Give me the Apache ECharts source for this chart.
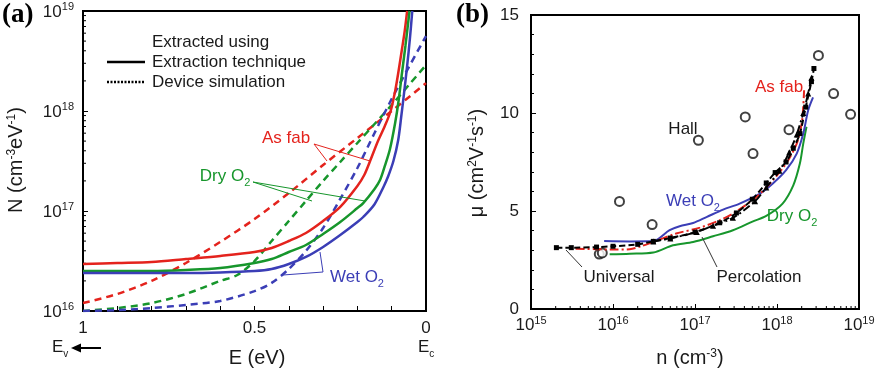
<!DOCTYPE html>
<html><head><meta charset="utf-8">
<script src="https://cdn.jsdelivr.net/npm/echarts@6/dist/echarts.min.js"></script>
<style>html,body{margin:0;padding:0;background:#fff}#c{width:878px;height:373px}</style>
</head><body><div id="c"></div>
<script>
// ---------- Panel (a): N vs E (eV) ----------
const asFabExtraction = [[1,2.95e16],[0.9,3.02e16],[0.8,3.09e16],[0.7,3.31e16],[0.6,3.55e16],[0.5,3.89e16],[0.45,4.27e16],[0.4,5.01e16],[0.35,6.03e16],[0.3,7.94e16],[0.25,1.10e17],[0.2,1.78e17],[0.18,2.29e17],[0.163,3.16e17],[0.14,5.01e17],[0.12,7.08e17],[0.103,1.0e18],[0.09,1.58e18],[0.08,2.51e18],[0.07,4.17e18],[0.062,6.31e18],[0.055,1e19]];
const dryExtraction = [[1,2.51e16],[0.9,2.51e16],[0.8,2.51e16],[0.7,2.57e16],[0.6,2.69e16],[0.5,3.02e16],[0.45,3.31e16],[0.4,3.89e16],[0.35,4.57e16],[0.3,5.89e16],[0.25,7.76e16],[0.2,1.07e17],[0.183,1.2e17],[0.15,1.66e17],[0.134,2.04e17],[0.12,2.82e17],[0.105,4.17e17],[0.09,7.59e17],[0.08,1.26e18],[0.07,2.4e18],[0.06,4.47e18],[0.048,1e19]];
const wetExtraction = [[1,2.40e16],[0.9,2.40e16],[0.8,2.40e16],[0.7,2.40e16],[0.6,2.43e16],[0.5,2.51e16],[0.45,2.63e16],[0.4,2.95e16],[0.35,3.47e16],[0.3,4.37e16],[0.25,5.75e16],[0.2,7.76e16],[0.183,8.71e16],[0.15,1.17e17],[0.124,1.74e17],[0.11,2.24e17],[0.095,3.16e17],[0.081,5.13e17],[0.072,8.91e17],[0.065,1.41e18],[0.055,2.82e18],[0.047,5.25e18],[0.04,1e19]];
const asFabSimulation = [[1,1.2e16],[0.9,1.48e16],[0.8,2.0e16],[0.7,3.02e16],[0.6,4.9e16],[0.5,8.3e16],[0.4,1.51e17],[0.3,2.88e17],[0.2,5.37e17],[0.1,1.0e18],[0,1.9e18]];
const drySimulation = [[1,1.0e16],[0.9,1.07e16],[0.8,1.2e16],[0.7,1.48e16],[0.6,2.0e16],[0.55,2.29e16],[0.5,3.16e16],[0.45,5.01e16],[0.4,7.94e16],[0.35,1.26e17],[0.3,2.0e17],[0.25,3.09e17],[0.2,4.79e17],[0.15,7.41e17],[0.1,1.15e18],[0.05,1.82e18],[0,2.88e18]];
const wetSimulation = [[1,1.0e16],[0.9,1.02e16],[0.8,1.07e16],[0.7,1.15e16],[0.6,1.26e16],[0.5,1.58e16],[0.45,1.91e16],[0.4,2.63e16],[0.35,3.98e16],[0.3,6.76e16],[0.25,1.32e17],[0.2,2.69e17],[0.15,6.03e17],[0.1,1.32e18],[0.05,2.75e18],[0,5.62e18]];
const energyTicks = [1, 0.5, 0];
const densityDecadesA = [1e16, 1e17, 1e18];

// ---------- Panel (b): mobility vs n ----------
const hallPoints = [[6.8e15,2.8],[7.4e15,2.86],[1.2e16,5.49],[3.0e16,4.31],[1.1e17,8.61],[4.1e17,9.8],[5.1e17,7.93],[1.4e18,9.15],[3.2e18,12.94],[4.9e18,10.99],[7.9e18,9.93]];
const asFabMobility = [[3.5e15,3.08],[6.3e15,3.05],[1e16,3.03],[1.6e16,3.05],[2.2e16,3.2],[3.1e16,3.42],[5.9e16,3.85],[1.15e17,4.15],[2.0e17,4.53],[2.9e17,4.87],[5.6e17,5.71],[8.9e17,6.57],[1.29e18,7.42],[1.74e18,8.44],[2.0e18,9.46],[2.09e18,10.31],[2.14e18,11.16]];
const wetMobility = [[7.8e15,3.47],[1.6e16,3.45],[3.1e16,3.47],[4.9e16,4.02],[6.5e16,4.22],[9.5e16,4.39],[1.38e17,4.69],[2.2e17,5.07],[3.5e17,5.38],[6.2e17,5.89],[8.9e17,6.4],[1.29e18,7.08],[1.74e18,7.93],[2.09e18,8.95],[2.4e18,10.14],[2.75e18,10.8]];
const dryMobility = [[9.1e15,2.79],[1.6e16,2.82],[3.1e16,2.88],[5.4e16,3.25],[9.5e16,3.42],[1.66e17,3.71],[2.9e17,4.02],[5.1e17,4.47],[7.4e17,4.75],[1.17e18,5.38],[1.58e18,6.31],[1.9e18,7.42],[2.09e18,8.44],[2.29e18,9.3]];
const universalMobility = [[2.04e15,3.13],[3.1e15,3.13],[6.3e15,3.16],[1e16,3.2],[2e16,3.3],[3.1e16,3.45],[5e16,3.62],[1e17,3.92],[2e17,4.4],[3.2e17,4.9],[5e17,5.6],[7.4e17,6.43],[9.5e17,6.96],[1.29e18,7.5],[1.58e18,8.2],[1.9e18,8.95],[2.24e18,10.3],[2.63e18,11.6],[2.82e18,12.27]];
const percolationMobility = [[3.1e16,3.45],[5e16,3.6],[1.05e17,3.93],[1.66e17,4.25],[2.9e17,4.65],[5.4e17,5.5],[7.4e17,6.2],[1.07e18,7.05],[1.41e18,8.0],[1.74e18,8.9],[2.09e18,10.0],[2.4e18,11.0],[2.63e18,11.8]];
const mobilityTicks = [0, 5, 10, 15];
const densityDecadesB = [1e15, 1e16, 1e17, 1e18];
const minorMultipliers = [2, 3, 4, 5, 6, 7, 8, 9];

const F = '"Liberation Sans", Arial, Helvetica, sans-serif';
const RED = '#e4231d', GREEN = '#17962c', BLUE = '#3b3eb6', INK = '#1a1a1a';

const supRich = {
  b: {fontFamily: F, fontSize: 17, color: INK, verticalAlign: 'bottom'},
  s: {fontFamily: F, fontSize: 11, color: INK, verticalAlign: 'bottom', padding: [0, 0, 8, 0]}
};
const pow10 = v => '{b|10}{s|' + Math.round(Math.log10(v)) + '}';

function axisBase(extra) {
  return Object.assign({
    axisLine: {show: true, onZero: false, lineStyle: {color: '#000', width: 2}},
    axisTick: {show: true, inside: true, length: 5, lineStyle: {color: '#000', width: 1}},
    minorTick: {show: false},
    splitLine: {show: false}
  }, extra);
}

// log minor tick positions (2..9 per decade)
const minorA = [];
densityDecadesA.forEach(d => minorMultipliers.forEach(m => minorA.push([1, m * d])));
const minorB = [];
densityDecadesB.forEach(d => minorMultipliers.forEach(m => minorB.push([m * d, 0])));

const chart = echarts.init(document.getElementById('c'));

function txt(x, y, text, color, rich, opts) {
  return {
    type: 'text', x: x, y: y, silent: true, z: 100,
    style: Object.assign({text: text, fill: color, font: '17px ' + F, align: 'center', verticalAlign: 'middle', rich: rich || undefined}, opts || {})
  };
}
function seg(x1, y1, x2, y2, color, w, dash) {
  return {type: 'line', silent: true, z: 100, shape: {x1, y1, x2, y2},
    style: {stroke: color, lineWidth: w || 1, lineDash: dash || null}};
}
function o2(color) {
  return {
    t: {fontFamily: F, fontSize: 17, color: color, verticalAlign: 'bottom', padding: [0, 0, 4, 0]},
    u: {fontFamily: F, fontSize: 11, color: color, verticalAlign: 'bottom'}
  };
}
const subRich = {
  t: {fontFamily: F, fontSize: 17, color: INK, verticalAlign: 'bottom', padding: [0, 0, 4, 0]},
  u: {fontFamily: F, fontSize: 10, color: INK, verticalAlign: 'bottom'}
};
const titleRich = {
  t: {fontFamily: F, fontSize: 20, color: INK, verticalAlign: 'bottom'},
  s: {fontFamily: F, fontSize: 12, color: INK, verticalAlign: 'bottom', padding: [0, 0, 9, 0]}
};

const option = {
  animation: false,
  backgroundColor: '#fff',
  grid: [
    {left: 83, top: 11, width: 343, height: 300, show: true, borderColor: '#000', borderWidth: 2},
    {left: 531, top: 15, width: 328, height: 294, show: true, borderColor: '#000', borderWidth: 2}
  ],
  xAxis: [
    axisBase({gridIndex: 0, type: 'value', min: 0, max: 1, interval: 0.1, inverse: true,
      axisLabel: {margin: 9, color: INK, fontFamily: F, fontSize: 17,
        formatter: v => { const r = Math.round(v * 10) / 10; return energyTicks.indexOf(r) >= 0 ? String(r) : ''; }}}),
    axisBase({gridIndex: 1, type: 'log', logBase: 10, min: 1e15, max: 1e19,
      axisLabel: {margin: 6, formatter: pow10, rich: supRich}})
  ],
  yAxis: [
    axisBase({gridIndex: 0, type: 'log', logBase: 10, min: 1e16, max: 1e19,
      axisLabel: {margin: 9, formatter: pow10, rich: supRich}}),
    axisBase({gridIndex: 1, type: 'value', min: 0, max: 15, interval: 5,
      minorTick: {show: true, splitNumber: 5, length: 3, lineStyle: {color: '#000'}},
      axisLabel: {margin: 12, color: INK, fontFamily: F, fontSize: 17,
        formatter: v => mobilityTicks.indexOf(v) >= 0 ? String(v) : ''}})
  ],
  series: [
    {type: 'line', xAxisIndex: 0, yAxisIndex: 0, data: asFabSimulation, showSymbol: false, smooth: 0.3, lineStyle: {color: RED, width: 2.5, type: [7, 5]}},
    {type: 'line', xAxisIndex: 0, yAxisIndex: 0, data: drySimulation, showSymbol: false, smooth: 0.3, lineStyle: {color: GREEN, width: 2.5, type: [7, 5]}},
    {type: 'line', xAxisIndex: 0, yAxisIndex: 0, data: wetSimulation, showSymbol: false, smooth: 0.3, lineStyle: {color: BLUE, width: 2.5, type: [7, 5]}},
    {type: 'line', xAxisIndex: 0, yAxisIndex: 0, data: asFabExtraction, showSymbol: false, smooth: 0.3, lineStyle: {color: RED, width: 2.5}},
    {type: 'line', xAxisIndex: 0, yAxisIndex: 0, data: dryExtraction, showSymbol: false, smooth: 0.3, lineStyle: {color: GREEN, width: 2.5}},
    {type: 'line', xAxisIndex: 0, yAxisIndex: 0, data: wetExtraction, showSymbol: false, smooth: 0.3, lineStyle: {color: BLUE, width: 2.5}},
    // log minor ticks, panel (a) y axis
    {type: 'custom', xAxisIndex: 0, yAxisIndex: 0, data: minorA, silent: true, clip: false,
      renderItem: (params, api) => { const p = api.coord([api.value(0), api.value(1)]);
        return {type: 'line', shape: {x1: p[0], y1: p[1], x2: p[0] + 3, y2: p[1]}, style: {stroke: '#000', lineWidth: 1}}; }},

    {type: 'line', xAxisIndex: 1, yAxisIndex: 1, data: dryMobility, showSymbol: false, smooth: 0.3, lineStyle: {color: GREEN, width: 2}},
    {type: 'line', xAxisIndex: 1, yAxisIndex: 1, data: wetMobility, showSymbol: false, smooth: 0.3, lineStyle: {color: BLUE, width: 2}},
    {type: 'line', xAxisIndex: 1, yAxisIndex: 1, data: asFabMobility, showSymbol: false, smooth: 0.3, lineStyle: {color: RED, width: 2, type: [9, 3, 2, 3]}},
    {type: 'line', xAxisIndex: 1, yAxisIndex: 1, data: percolationMobility, symbol: 'triangle', symbolSize: 6, smooth: 0.3,
      itemStyle: {color: '#000'}, lineStyle: {color: '#000', width: 2, type: [8, 3, 2, 3]}},
    {type: 'line', xAxisIndex: 1, yAxisIndex: 1, data: universalMobility, symbol: 'rect', symbolSize: 5, smooth: 0.3,
      itemStyle: {color: '#000'}, lineStyle: {color: '#000', width: 2, type: [6, 3]}},
    {type: 'scatter', xAxisIndex: 1, yAxisIndex: 1, data: hallPoints, symbol: 'emptyCircle', symbolSize: 9,
      itemStyle: {color: '#111', borderColor: '#111', borderWidth: 1.6}},
    // log minor ticks, panel (b) x axis
    {type: 'custom', xAxisIndex: 1, yAxisIndex: 1, data: minorB, silent: true, clip: false,
      renderItem: (params, api) => { const p = api.coord([api.value(0), api.value(1)]);
        return {type: 'line', shape: {x1: p[0], y1: p[1], x2: p[0], y2: p[1] - 3}, style: {stroke: '#000', lineWidth: 1}}; }}
  ],
  graphic: [
    txt(2, 15, '(a)', '#000', null, {font: 'bold 27px "Liberation Serif", "Times New Roman", serif', align: 'left'}),
    txt(456, 15, '(b)', '#000', null, {font: 'bold 27px "Liberation Serif", "Times New Roman", serif', align: 'left'}),
    txt(152, 42, 'Extracted using', INK, null, {align: 'left'}),
    seg(107, 62, 145, 62, '#000', 2.5),
    txt(152, 62, 'Extraction technique', INK, null, {align: 'left'}),
    seg(107, 82, 145, 82, '#000', 2.5, [2, 1.5]),
    txt(152, 82, 'Device simulation', INK, null, {align: 'left'}),
    txt(286, 138, 'As fab', RED),
    seg(314, 144, 327, 161, RED, 1), seg(314, 144, 370, 161, RED, 1),
    txt(225, 178, '{t|Dry O}{u|2}', GREEN, o2(GREEN)),
    seg(253, 182, 312, 201, GREEN, 1), seg(253, 182, 365, 201, GREEN, 1),
    seg(320, 252, 323, 272, BLUE, 1), seg(323, 272, 283, 275, BLUE, 1),
    txt(330, 279, '{t|Wet O}{u|2}', BLUE, o2(BLUE), {align: 'left'}),
    txt(257, 358, 'E (eV)', INK, null, {font: '20px ' + F}),
    Object.assign(txt(16, 160, '{t|N (cm}{s|-3}{t|eV}{s|-1}{t|)}', INK, titleRich), {rotation: Math.PI / 2}),
    txt(52, 349, '{t|E}{u|v}', INK, subRich, {align: 'left'}),
    seg(101, 348, 78, 348, '#000', 2),
    {type: 'polygon', silent: true, z: 100, shape: {points: [[71, 348], [81, 343.5], [81, 352.5]]}, style: {fill: '#000'}},
    txt(418, 349, '{t|E}{u|c}', INK, subRich, {align: 'left'}),
    txt(779, 87, 'As fab', RED),
    txt(683, 129, 'Hall', INK),
    txt(693, 203, '{t|Wet O}{u|2}', BLUE, o2(BLUE)),
    txt(792, 218, '{t|Dry O}{u|2}', GREEN, o2(GREEN)),
    txt(619, 277, 'Universal', INK),
    seg(582, 267, 566, 250, '#333', 1),
    txt(759, 277, 'Percolation', INK),
    seg(717, 267, 702, 237, '#333', 1),
    txt(690, 358, '{t|n (cm}{s|-3}{t|)}', INK, titleRich),
    Object.assign(txt(477, 163, '{t|\u03bc (cm}{s|2}{t|V}{s|-1}{t|s}{s|-1}{t|)}', INK, titleRich), {rotation: Math.PI / 2})
  ]
};
chart.setOption(option);
</script>
</body></html>
